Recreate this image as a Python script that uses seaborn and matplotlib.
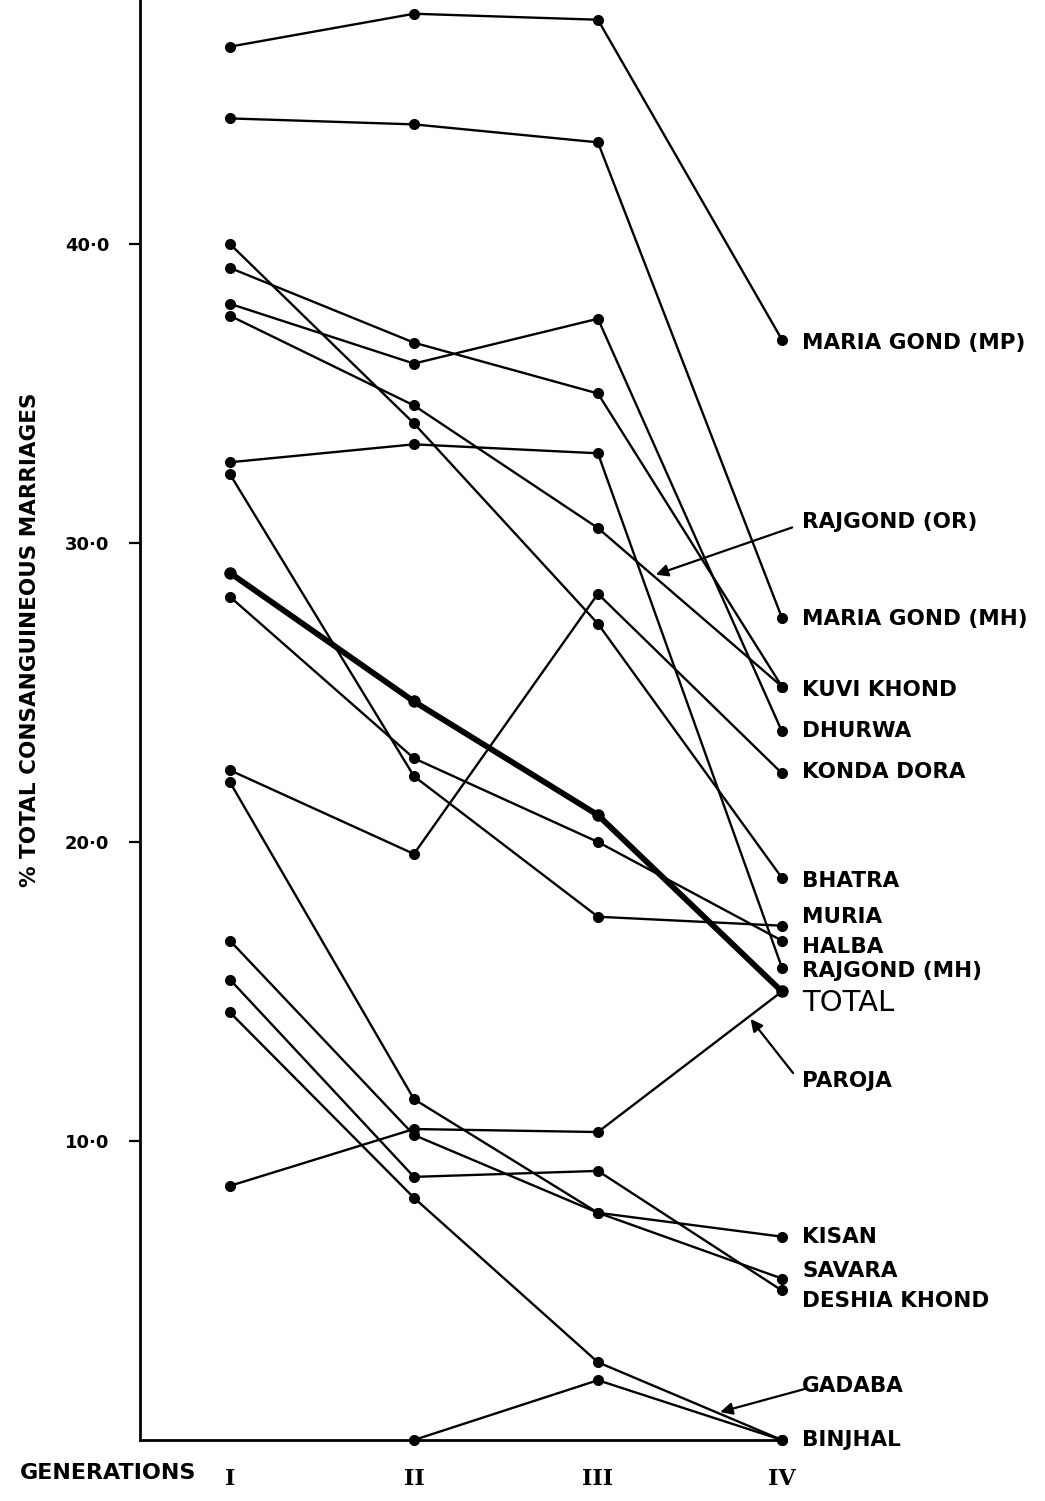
import numpy as np
import pandas as pd
import matplotlib
matplotlib.use("Agg")
import matplotlib.pyplot as plt
import seaborn as sns

# ---------------- data ----------------
generations = ["I", "II", "III", "IV"]
gen_pos = [1, 2, 3, 4]

maria_gond_mp = [46.6, 47.7, 47.5, 36.8]
maria_gond_mh = [44.2, 44.0, 43.4, 27.5]
bhatra = [40.0, 34.0, 27.3, 18.8]
kuvi_khond = [39.2, 36.7, 35.0, 25.2]
dhurwa = [38.0, 36.0, 37.5, 23.7]
rajgond_or = [37.6, 34.6, 30.5, 25.2]
rajgond_mh = [32.7, 33.3, 33.0, 15.8]
muria = [32.3, 22.2, 17.5, 17.2]
total = [29.0, 24.7, 20.9, 15.0]
halba = [28.2, 22.8, 20.0, 16.7]
konda_dora = [22.4, 19.6, 28.3, 22.3]
savara = [22.0, 11.4, 7.6, 5.4]
kisan = [16.7, 10.2, 7.6, 6.8]
deshia_khond = [15.4, 8.8, 9.0, 5.0]
gadaba = [14.3, 8.1, 2.6, 0.0]
paroja = [8.5, 10.4, 10.3, 15.0]
binjhal = [np.nan, 0.0, 2.0, 0.0]

series = {
    "MARIA GOND (MP)": maria_gond_mp,
    "MARIA GOND (MH)": maria_gond_mh,
    "BHATRA": bhatra,
    "KUVI KHOND": kuvi_khond,
    "DHURWA": dhurwa,
    "RAJGOND (OR)": rajgond_or,
    "RAJGOND (MH)": rajgond_mh,
    "MURIA": muria,
    "TOTAL": total,
    "HALBA": halba,
    "KONDA DORA": konda_dora,
    "SAVARA": savara,
    "KISAN": kisan,
    "DESHIA KHOND": deshia_khond,
    "GADABA": gadaba,
    "PAROJA": paroja,
    "BINJHAL": binjhal,
}

yticks = [10, 20, 30, 40]
ytick_labels = ["10·0", "20·0", "30·0", "40·0"]

rows = []
for name, vals in series.items():
    for g, v in zip(gen_pos, vals):
        if not np.isnan(v):
            rows.append({"group": name, "gen": g, "value": v})
df = pd.DataFrame(rows)

# ---------------- style ----------------
sns.set_style("ticks", {"axes.edgecolor": "black", "text.color": "black",
                        "xtick.color": "black", "ytick.color": "black",
                        "axes.labelcolor": "black"})
plt.rcParams["font.family"] = ["DejaVu Sans"]
plt.rcParams["text.color"] = "black"

W, H = 1045, 1501
fig = plt.figure(figsize=(W / 100, H / 100), dpi=100)
ax = fig.add_axes([140 / W, 61 / H, (W - 140) / W, 1440 / H])

thin = df[df["group"] != "TOTAL"]
tot = df[df["group"] == "TOTAL"]

sns.lineplot(data=thin, x="gen", y="value", units="group", estimator=None,
             sort=False, color="black", lw=1.7, marker="o", markersize=8,
             markeredgewidth=0, ax=ax, legend=False)
sns.lineplot(data=tot, x="gen", y="value", units="group", estimator=None,
             sort=False, color="black", lw=4.2, marker="o", markersize=9,
             markeredgewidth=0, ax=ax, legend=False)
for ln in ax.lines:
    ln.set_clip_on(False)

ax.set_xlim(0.511, 5.43)
ax.set_ylim(0, 48.16)

for s in ["top", "right"]:
    ax.spines[s].set_visible(False)
ax.spines["left"].set_linewidth(2)
ax.spines["bottom"].set_linewidth(2)
ax.spines["bottom"].set_bounds(0.511, 4.0)

ax.set_yticks(yticks)
ax.set_yticklabels(ytick_labels, fontsize=13, fontweight="bold")
ax.tick_params(axis="y", direction="out", length=8, width=1.6, pad=14,
               colors="black")

ax.set_xticks(gen_pos)
ax.set_xticklabels(generations, fontsize=16, fontweight="bold", family="DejaVu Serif")
ax.tick_params(axis="x", length=0, pad=20, colors="black")
ax.set_xlabel("")
ax.set_ylabel("")

fig.text(30 / W, 1 - 640 / H, "% TOTAL CONSANGUINEOUS MARRIAGES", rotation=90,
         ha="center", va="center", fontsize=15.5, fontweight="bold", color="black")
fig.text(20 / W, 1 - 1473 / H, "GENERATIONS", ha="left", va="center",
         fontsize=16, fontweight="bold", color="black")

# ---------------- end labels ----------------
label_y = {
    "MARIA GOND (MP)": 36.7,
    "RAJGOND (OR)": 30.7,
    "MARIA GOND (MH)": 27.45,
    "KUVI KHOND": 25.1,
    "DHURWA": 23.7,
    "KONDA DORA": 22.35,
    "BHATRA": 18.7,
    "MURIA": 17.5,
    "HALBA": 16.5,
    "RAJGOND (MH)": 15.7,
    "TOTAL": 14.6,
    "PAROJA": 12.0,
    "KISAN": 6.8,
    "SAVARA": 5.65,
    "DESHIA KHOND": 4.65,
    "GADABA": 1.8,
    "BINJHAL": 0.0,
}
label_x = 4.11
for name, yv in label_y.items():
    if name == "TOTAL":
        ax.text(label_x, yv, name, fontsize=21, va="center", ha="left",
                clip_on=False, color="black")
    else:
        ax.text(label_x, yv, name, fontsize=15.5, fontweight="bold",
                va="center", ha="left", clip_on=False, color="black")


def on_segment(vals, i, frac):
    x = gen_pos[i] + frac * (gen_pos[i + 1] - gen_pos[i])
    y = vals[i] + frac * (vals[i + 1] - vals[i])
    return x, y


arrow_kw = dict(arrowstyle="-|>", color="black", lw=1.6, mutation_scale=18)
ax.annotate("", xy=on_segment(rajgond_or, 2, 0.3), xytext=(4.07, 30.55),
            arrowprops=arrow_kw, annotation_clip=False)
ax.annotate("", xy=on_segment(paroja, 2, 0.82), xytext=(4.07, 12.2),
            arrowprops=arrow_kw, annotation_clip=False)
ax.annotate("", xy=on_segment(gadaba, 2, 0.65), xytext=(4.15, 1.75),
            arrowprops=arrow_kw, annotation_clip=False)

fig.savefig("out.png", dpi=100, facecolor="white")
